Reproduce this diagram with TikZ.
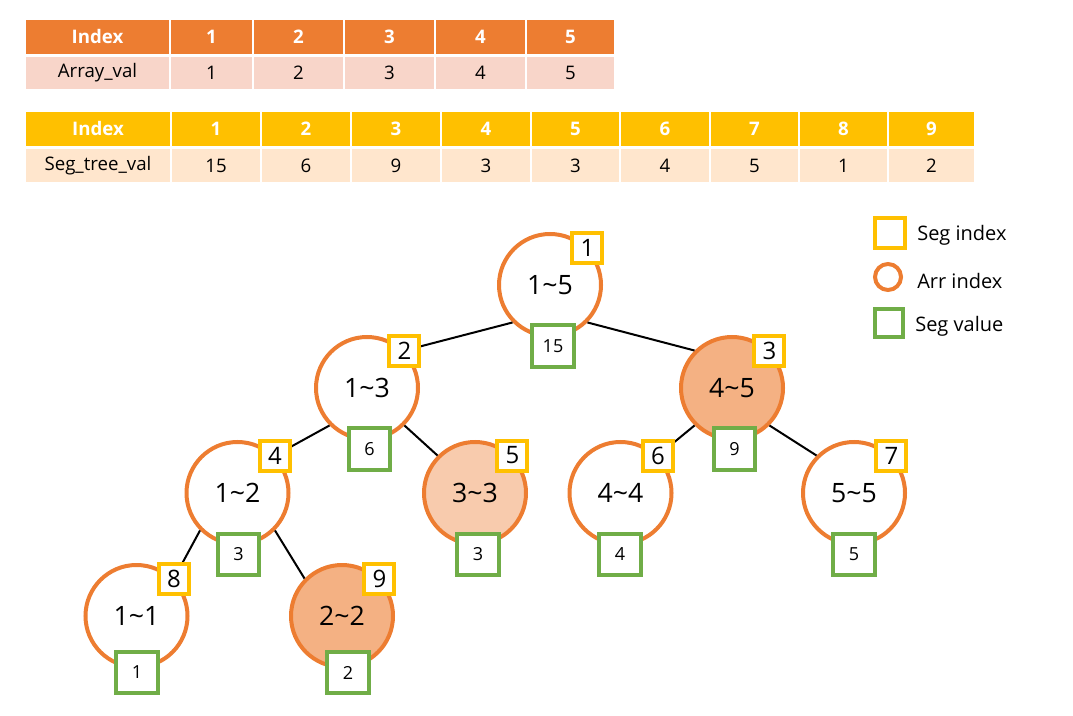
\documentclass[tikz,border=0pt]{standalone}
\usepackage{fontspec}
\setmainfont{Open Sans}
\definecolor{orgc}{HTML}{ED7D31}
\definecolor{yelc}{HTML}{FFC000}
\definecolor{grnc}{HTML}{70AD47}
\definecolor{arrrow}{HTML}{F8D5C9}
\definecolor{segrow}{HTML}{FFE6CD}
\definecolor{darkfill}{HTML}{F4B183}
\definecolor{lightfill}{HTML}{F8CBAD}
\begin{document}
\begin{tikzpicture}[x=0.75pt,y=-0.75pt,
  tnode/.style={circle, draw=orgc, line width=3pt, minimum size=76.5pt, inner sep=0pt, fill=white, font=\fontsize{20}{23}\selectfont},
  segidx/.style={rectangle, draw=yelc, line width=3pt, fill=white, minimum size=22.5pt, inner sep=0pt, font=\fontsize{18}{20}\selectfont},
  segval/.style={rectangle, draw=grnc, line width=3pt, fill=white, minimum size=31pt, inner sep=0pt, font=\fontsize{13.5}{15}\selectfont},
  conn/.style={line width=1.5pt, black},
  cellbase/.style={rectangle, inner sep=0pt, font=\fontsize{14}{16}\selectfont},
  hcellA/.style={cellbase, fill=orgc, text=white, font=\fontsize{14}{16}\selectfont\bfseries, minimum height=25.5pt},
  dcellA/.style={cellbase, fill=arrrow, minimum height=24pt},
  hcellB/.style={cellbase, fill=yelc, text=white, font=\fontsize{14}{16}\selectfont\bfseries, minimum height=25.5pt},
  dcellB/.style={cellbase, fill=segrow, minimum height=24.75pt},
  legtext/.style={anchor=west, inner sep=0pt, font=\fontsize{15}{17}\selectfont}
]
\useasboundingbox (0,0) rectangle (1073,716);

% Table 1
\foreach \a/\b/\t [count=\k] in {25/170/Index,170/253/1,253/344/2,344/435/3,435/526/4,526/615/5}
  \node[hcellA, minimum width={(\b-\a-2)*0.75pt}] (ah\k) at ({(\a+\b)/2},37) {\t};
\foreach \a/\b/\t [count=\k] in {25/170/Array\_val,170/253/1,253/344/2,344/435/3,435/526/4,526/615/5}
  \node[dcellA, minimum width={(\b-\a-2)*0.75pt}] (ad\k) at ({(\a+\b)/2},73) {\t};

% Table 2
\foreach \a/\b/\t [count=\k] in {25/171/Index,171/261/1,261/351/2,351/441/3,441/531/4,531/620/5,620/710/6,710/799/7,799/888/8,888/975/9}
  \node[hcellB, minimum width={(\b-\a-2)*0.75pt}] (bh\k) at ({(\a+\b)/2},129) {\t};
\foreach \a/\b/\t [count=\k] in {25/171/Seg\_tree\_val,171/261/15,261/351/6,351/441/9,441/531/3,531/620/3,620/710/4,710/799/5,799/888/1,888/975/2}
  \node[dcellB, minimum width={(\b-\a-2)*0.75pt}] (bd\k) at ({(\a+\b)/2},165.5) {\t};

% Tree nodes
\node[tnode] (a) at (550,285) {1\textasciitilde5};
\node[tnode] (b) at (367,388) {1\textasciitilde3};
\node[tnode, fill=darkfill] (c) at (732,388) {4\textasciitilde5};
\node[tnode] (d) at (237.5,493) {1\textasciitilde2};
\node[tnode, fill=lightfill] (e) at (475,493) {3\textasciitilde3};
\node[tnode] (f) at (620.5,493) {4\textasciitilde4};
\node[tnode] (g) at (854,493) {5\textasciitilde5};
\node[tnode] (h) at (136.5,616) {1\textasciitilde1};
\node[tnode, fill=darkfill] (i) at (342,616) {2\textasciitilde2};

% Edges
\draw[conn] (a.-135) -- (b.45);
\draw[conn] (a.-45) -- (c.135);
\draw[conn] (b.-135) -- (d.45);
\draw[conn] (b.-45) -- (e.135);
\draw[conn] (c.-135) -- (f.45);
\draw[conn] (c.-45) -- (g.135);
\draw[conn] (d.-135) -- (h.45);
\draw[conn] (d.-45) -- (i.135);

% Seg index boxes
\node[segidx] (ia) at (a.45) {1};
\node[segidx] (ib) at (b.45) {2};
\node[segidx] (ic) at (c.45) {3};
\node[segidx] (id) at (d.45) {4};
\node[segidx] (ie) at (e.45) {5};
\node[segidx] (if) at (f.45) {6};
\node[segidx] (ig) at (g.45) {7};
\node[segidx] (ih) at (h.45) {8};
\node[segidx] (ii) at (i.45) {9};

% Seg value boxes
\node[segval] (va) at (553,346) {15};
\node[segval] (vb) at (369.5,449) {6};
\node[segval] (vc) at (734.5,449) {9};
\node[segval] (vd) at (238.5,554.5) {3};
\node[segval] (ve) at (478,554.5) {3};
\node[segval] (vf) at (620,554.5) {4};
\node[segval] (vg) at (854,554.5) {5};
\node[segval] (vh) at (137,672.5) {1};
\node[segval] (vi) at (348,672.5) {2};

% Legend
\node[segidx] (lg1) at (890,233) {};
\node[circle, draw=orgc, line width=3pt, minimum size=19.5pt, inner sep=0pt] (lg2) at (888,277) {};
\node[rectangle, draw=grnc, line width=3pt, minimum size=21pt, inner sep=0pt] (lg3) at (889,323) {};
\node[legtext] (lt1) at (917,235) {Seg index};
\node[legtext] (lt2) at (917,281) {Arr index};
\node[legtext] (lt3) at (915,326) {Seg value};
\end{tikzpicture}
\end{document}
